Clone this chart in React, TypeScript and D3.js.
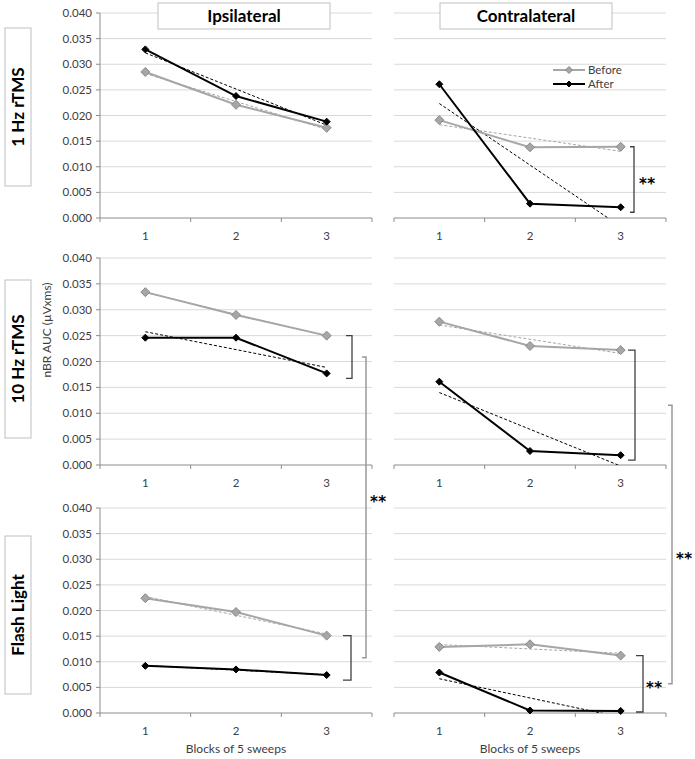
import React from "react";
import * as d3 from "d3";

const categories = ["1", "2", "3"];
const yTicks = [0, 0.005, 0.01, 0.015, 0.02, 0.025, 0.03, 0.035, 0.04];
const rowLabels = ["1 Hz rTMS", "10 Hz rTMS", "Flash Light"];
const colLabels = ["Ipsilateral", "Contralateral"];
const seriesNames = ["Before", "After"];
const yAxisLabel = "nBR AUC (\u00b5Vxms)";
const xAxisLabel = "Blocks of 5 sweeps";

// [row][col]
const beforeValues = [
  [[0.0285, 0.0221, 0.0176], [0.0191, 0.0138, 0.0139]],
  [[0.0334, 0.029, 0.025], [0.0277, 0.023, 0.0222]],
  [[0.0224, 0.0197, 0.0151], [0.0129, 0.0134, 0.0112]],
];
const afterValues = [
  [[0.0329, 0.0238, 0.0188], [0.0261, 0.0028, 0.0021]],
  [[0.0246, 0.0246, 0.0177], [0.0161, 0.0027, 0.0019]],
  [[0.0092, 0.0085, 0.0074], [0.0079, 0.0005, 0.0004]],
];
// significance brackets within a panel: [row, col, label]
const panelBrackets: [number, number, string][] = [
  [0, 1, "**"],
  [1, 0, ""],
  [1, 1, ""],
  [2, 0, ""],
  [2, 1, "**"],
];
// brackets between rows 2 and 3, per column
const crossBrackets: [number, string][] = [
  [0, "**"],
  [1, "**"],
];

const W = 695;
const H = 759;
const colX = [
  [100, 372],
  [394, 666],
];
const rowY = [
  [13, 218],
  [258, 465],
  [508, 713],
];
const rowTitleCenter = [107, 359, 615];
const colTitleCenter = [244, 526];
const GRAY = "#a6a6a6";
const FONT = "Lato, 'Open Sans', sans-serif";
const STAR_FONT = "'DejaVu Sans', sans-serif";

function regress(vals: number[]) {
  const xs = vals.map((_, i) => i + 1);
  const mx = d3.mean(xs)!;
  const my = d3.mean(vals)!;
  let num = 0,
    den = 0;
  xs.forEach((x, i) => {
    num += (x - mx) * (vals[i] - my);
    den += (x - mx) * (x - mx);
  });
  const b = num / den;
  const a = my - b * mx;
  return (x: number) => a + b * x;
}

function Diamond({ x, y, r, fill, stroke }: any) {
  return (
    <path
      d={`M${x},${y - r}L${x + r},${y}L${x},${y + r}L${x - r},${y}Z`}
      fill={fill}
      stroke={stroke}
      strokeWidth={1}
    />
  );
}

function Panel({ row, col }: { row: number; col: number }) {
  const [x0, x1] = colX[col];
  const [y0, y1] = rowY[row];
  const xb = d3.scaleBand<string>().domain(categories).range([x0, x1]).padding(0);
  const xc = (c: string) => xb(c)! + xb.bandwidth() / 2;
  const y = d3.scaleLinear().domain([0, 0.04]).range([y1, y0]);
  const line = d3
    .line<number>()
    .x((_, i) => xc(categories[i]))
    .y((d) => y(d));
  const clipId = `clip-${row}-${col}`;
  const series = [
    { vals: beforeValues[row][col], color: GRAY, r: 4.5, stroke: "#8a8a8a", dash: GRAY },
    { vals: afterValues[row][col], color: "#000", r: 3.5, stroke: "#000", dash: "#000" },
  ];
  const edges = [x0, ...categories.map((c) => xb(c)! + xb.bandwidth())];
  return (
    <g>
      <defs>
        <clipPath id={clipId}>
          <rect x={x0} y={y0} width={x1 - x0} height={y1 - y0} />
        </clipPath>
      </defs>
      {yTicks
        .filter((t) => t > 0)
        .map((t) => (
          <line key={t} x1={x0} x2={x1} y1={y(t)} y2={y(t)} stroke="#d9d9d9" strokeWidth={1} />
        ))}
      {col === 0 && (
        <g>
          <line x1={x0} x2={x0} y1={y0} y2={y1} stroke="#8c8c8c" />
          {yTicks.map((t) => (
            <g key={t}>
              <line x1={x0 - 4} x2={x0} y1={y(t)} y2={y(t)} stroke="#8c8c8c" />
              <text
                x={x0 - 8}
                y={y(t)}
                dy="0.35em"
                textAnchor="end"
                fontSize={11.5}
                fill="#404040"
                fontFamily={FONT}
              >
                {t.toFixed(3)}
              </text>
            </g>
          ))}
        </g>
      )}
      <line x1={x0} x2={x1} y1={y1} y2={y1} stroke="#8c8c8c" />
      {edges.map((e, i) => (
        <line key={i} x1={e} x2={e} y1={y1} y2={y1 + 4} stroke="#8c8c8c" />
      ))}
      {categories.map((c) => (
        <text
          key={c}
          x={xc(c)}
          y={y1 + 22}
          textAnchor="middle"
          fontSize={11.5}
          fill="#404040"
          fontFamily={FONT}
        >
          {c}
        </text>
      ))}
      {series.map((s, i) => {
        const f = regress(s.vals);
        return (
          <line
            key={"t" + i}
            clipPath={`url(#${clipId})`}
            x1={xc(categories[0])}
            x2={xc(categories[2])}
            y1={y(f(1))}
            y2={y(f(3))}
            stroke={s.dash}
            strokeWidth={1}
            strokeDasharray="3,2"
          />
        );
      })}
      {series.map((s, i) => (
        <g key={"s" + i}>
          <path d={line(s.vals)!} fill="none" stroke={s.color} strokeWidth={2} />
          {s.vals.map((v, j) => (
            <Diamond key={j} x={xc(categories[j])} y={y(v)} r={s.r} fill={s.color} stroke={s.stroke} />
          ))}
        </g>
      ))}
    </g>
  );
}

function bracketPos(row: number, col: number) {
  const y = d3.scaleLinear().domain([0, 0.04]).range([rowY[row][1], rowY[row][0]]);
  const top = y(beforeValues[row][col][2]);
  const bot = Math.min(y(afterValues[row][col][2]) + 5, rowY[row][1] - 1);
  return { top, bot, mid: (top + bot) / 2 };
}

const bracketX: Record<string, [number, number]> = {
  "0-1": [630, 634],
  "1-0": [346, 352],
  "1-1": [628, 635],
  "2-0": [343, 351],
  "2-1": [636, 643],
};
const crossX = [
  [362, 366],
  [668, 672],
];

function Stars({ x, y, text }: { x: number; y: number; text: string }) {
  return (
    <text
      x={x}
      y={y}
      dy="0.62em"
      fontSize={15}
      fontWeight="bold"
      fill="#000"
      fontFamily={STAR_FONT}
      letterSpacing={0.5}
    >
      {text}
    </text>
  );
}

export default function App() {
  return (
    <div style={{ position: "absolute", left: 0, top: 0 }}>
      <svg width={W} height={H} style={{ display: "block", background: "#fff" }}>
        <rect width={W} height={H} fill="#fff" />
        {rowLabels.map((_, r) =>
          colLabels.map((__, c) => <Panel key={`${r}-${c}`} row={r} col={c} />)
        )}
        {/* column titles */}
        {colLabels.map((lab, c) => {
          const cx = colTitleCenter[c];
          return (
            <g key={lab}>
              <rect x={cx - 86} y={3} width={172} height={26} fill="#fff" stroke="#bfbfbf" />
              <text
                x={cx}
                y={16}
                dy="0.36em"
                textAnchor="middle"
                fontSize={17}
                fontWeight="bold"
                fill="#000"
                fontFamily={FONT}
              >
                {lab}
              </text>
            </g>
          );
        })}
        {/* row titles */}
        {rowLabels.map((lab, r) => {
          const cy = rowTitleCenter[r];
          return (
            <g key={lab}>
              <rect x={5} y={cy - 79} width={26} height={158} fill="#fff" stroke="#bfbfbf" />
              <text
                transform={`translate(18,${cy}) rotate(-90)`}
                dy="0.36em"
                textAnchor="middle"
                fontSize={17}
                fontWeight="bold"
                fill="#000"
                fontFamily={FONT}
              >
                {lab}
              </text>
            </g>
          );
        })}
        {/* y axis label */}
        <text
          transform={`translate(47,330) rotate(-90)`}
          dy="0.35em"
          textAnchor="middle"
          fontSize={12}
          fill="#404040"
          fontFamily={FONT}
        >
          {yAxisLabel}
        </text>
        {/* x axis labels */}
        {colLabels.map((_, c) => (
          <text
            key={c}
            x={(colX[c][0] + colX[c][1]) / 2}
            y={753}
            textAnchor="middle"
            fontSize={12}
            fill="#404040"
            fontFamily={FONT}
          >
            {xAxisLabel}
          </text>
        ))}
        {/* legend */}
        {seriesNames.map((n, i) => {
          const ly = 70 + i * 14;
          const color = i === 0 ? GRAY : "#000";
          return (
            <g key={n}>
              <line x1={553} x2={585} y1={ly} y2={ly} stroke={color} strokeWidth={2} />
              <Diamond x={569} y={ly} r={i === 0 ? 3.5 : 3} fill={color} stroke={i === 0 ? "#8a8a8a" : "#000"} />
              <text x={588} y={ly} dy="0.35em" fontSize={11.5} fill="#404040" fontFamily={FONT}>
                {n}
              </text>
            </g>
          );
        })}
        {/* panel brackets */}
        {panelBrackets.map(([r, c, lab]) => {
          const { top, bot, mid } = bracketPos(r, c);
          const [xl, xr] = bracketX[`${r}-${c}`];
          return (
            <g key={`b${r}${c}`}>
              <path
                d={`M${xl},${top}H${xr}V${bot}H${xl}`}
                fill="none"
                stroke="#404040"
                strokeWidth={1.3}
              />
              {lab && <Stars x={xr + (r === 2 ? 3 : 5)} y={mid} text={lab} />}
            </g>
          );
        })}
        {/* cross brackets */}
        {crossBrackets.map(([c, lab]) => {
          const a = bracketPos(1, c).mid;
          const b = bracketPos(2, c).mid;
          const [xl, xr] = crossX[c];
          return (
            <g key={`c${c}`}>
              <path d={`M${xl},${a}H${xr}V${b}H${xl}`} fill="none" stroke="#999" strokeWidth={1.5} />
              <Stars x={xr + 4} y={(a + b) / 2 + (c === 0 ? -10 : 10)} text={lab} />
            </g>
          );
        })}
      </svg>
    </div>
  );
}
